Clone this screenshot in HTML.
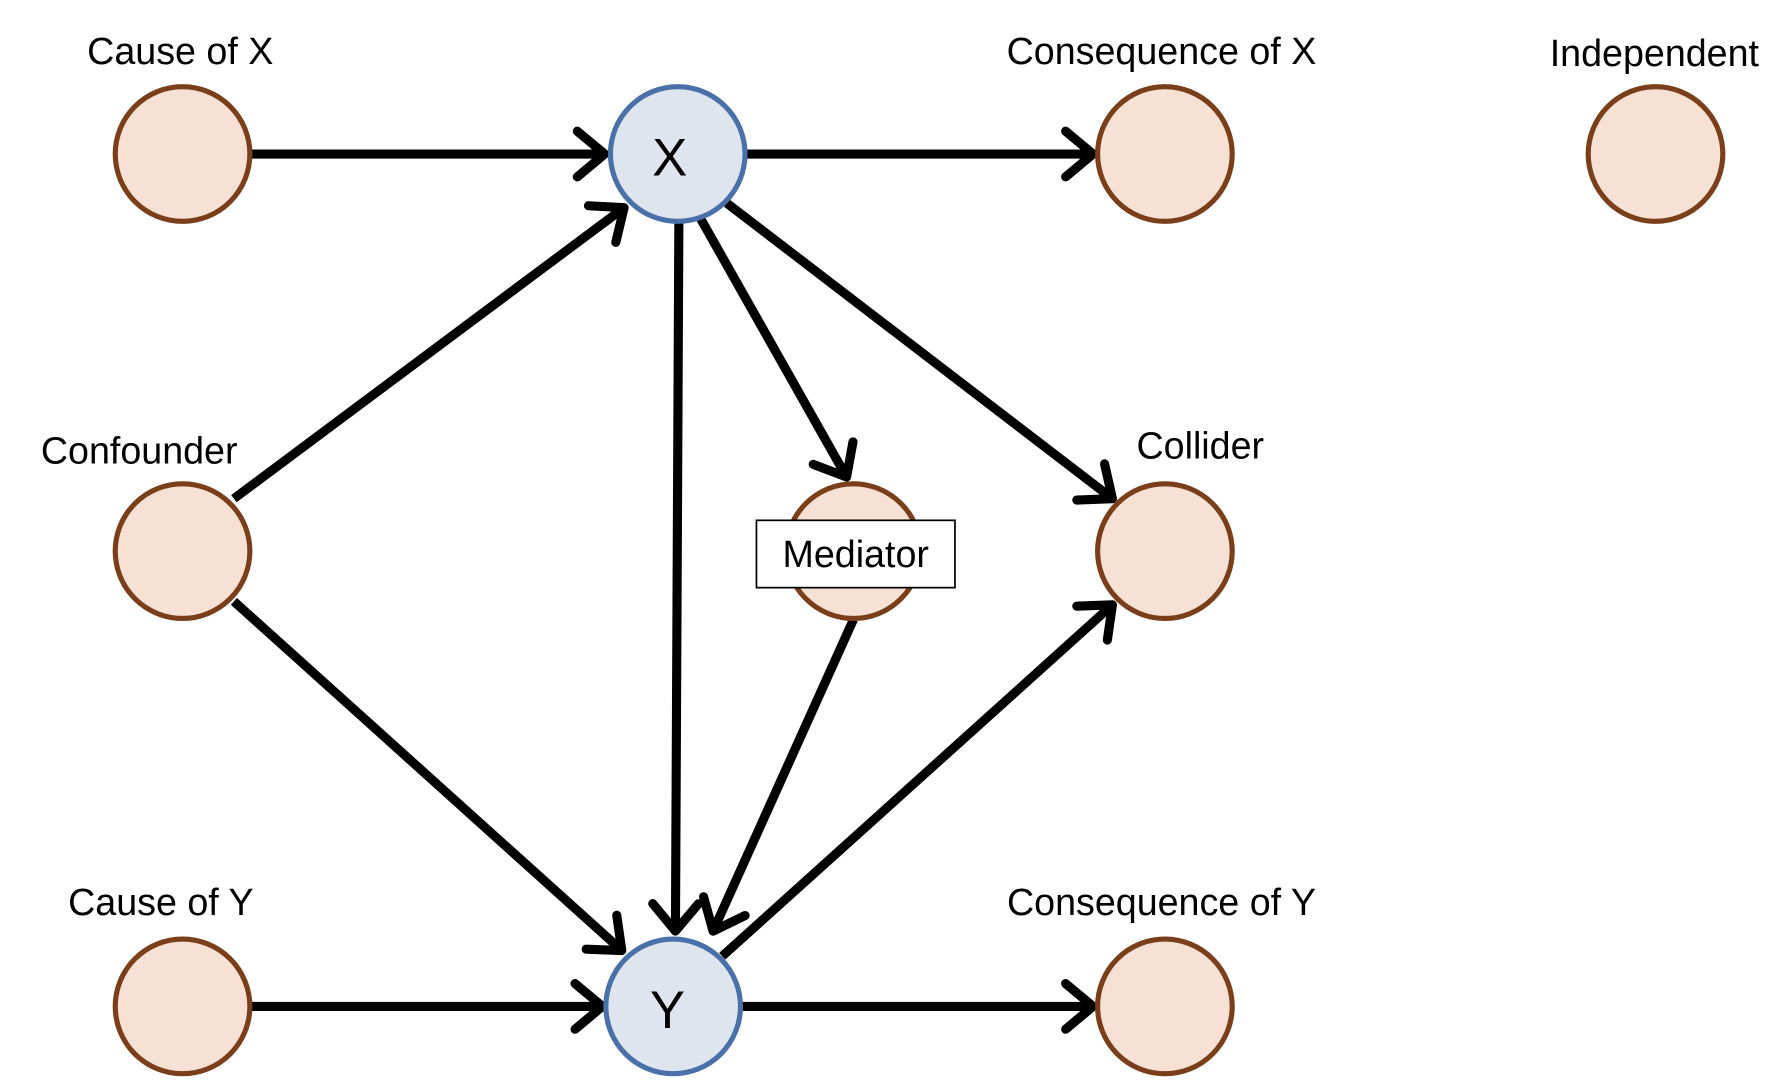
<!DOCTYPE html>
<html><head><meta charset="utf-8"><style>html,body{margin:0;padding:0;background:#fff;}svg{display:block}</style></head>
<body>
<svg width="1789" height="1092" viewBox="0 0 1568 957" preserveAspectRatio="none" xmlns="http://www.w3.org/2000/svg">
<defs>
<marker id="a" markerUnits="userSpaceOnUse" markerWidth="60" markerHeight="60" refX="30" refY="30" orient="auto">
<polyline points="6,10 30,30 6,50" fill="none" stroke="#000" stroke-width="8" stroke-linecap="round" stroke-linejoin="round"/>
</marker>
</defs>
<g stroke="#000" stroke-width="8" fill="none" marker-end="url(#a)">
<line x1="220" y1="135" x2="530" y2="135"/>
<line x1="652" y1="135" x2="958" y2="135"/>
<line x1="205" y1="437" x2="547" y2="182"/>
<line x1="595" y1="195" x2="592" y2="816"/>
<line x1="612" y1="188" x2="742" y2="418"/>
<line x1="637" y1="178" x2="975" y2="437"/>
<line x1="205" y1="527" x2="545" y2="833"/>
<line x1="748" y1="543" x2="625" y2="816"/>
<line x1="633" y1="838" x2="975" y2="530"/>
<line x1="220" y1="882" x2="528" y2="882"/>
<line x1="650" y1="882" x2="958" y2="882"/>
</g>
<g fill="#f6e1d4" stroke="#7a3f1a" stroke-width="4.5">
<circle cx="160" cy="135" r="59"/>
<circle cx="1021" cy="135" r="59"/>
<circle cx="1451" cy="135" r="59"/>
<circle cx="160" cy="483" r="59"/>
<circle cx="748" cy="483" r="59"/>
<circle cx="1021" cy="483" r="59"/>
<circle cx="160" cy="882" r="59"/>
<circle cx="1021" cy="882" r="59"/>
</g>
<g fill="#dfe5ee" stroke="#4a70aa" stroke-width="4.5">
<circle cx="594" cy="135" r="59"/>
<circle cx="590" cy="882" r="59"/>
</g>
<rect x="663" y="456" width="174" height="59" fill="#fff" stroke="#000" stroke-width="1.5"/>
<g font-family="Liberation Sans, sans-serif" font-size="33" fill="#000" text-anchor="middle">
<text x="750" y="497">Mediator</text>
<text x="158" y="56">Cause of X</text>
<text x="1018" y="56">Consequence of X</text>
<text x="1450" y="58">Independent</text>
<text x="122" y="406">Confounder</text>
<text x="1052" y="402">Collider</text>
<text x="141" y="802">Cause of Y</text>
<text x="1018" y="802">Consequence of Y</text>
<text x="587" y="154" font-size="46">X</text>
<text x="585" y="901" font-size="46">Y</text>
</g>
</svg>
</body></html>
